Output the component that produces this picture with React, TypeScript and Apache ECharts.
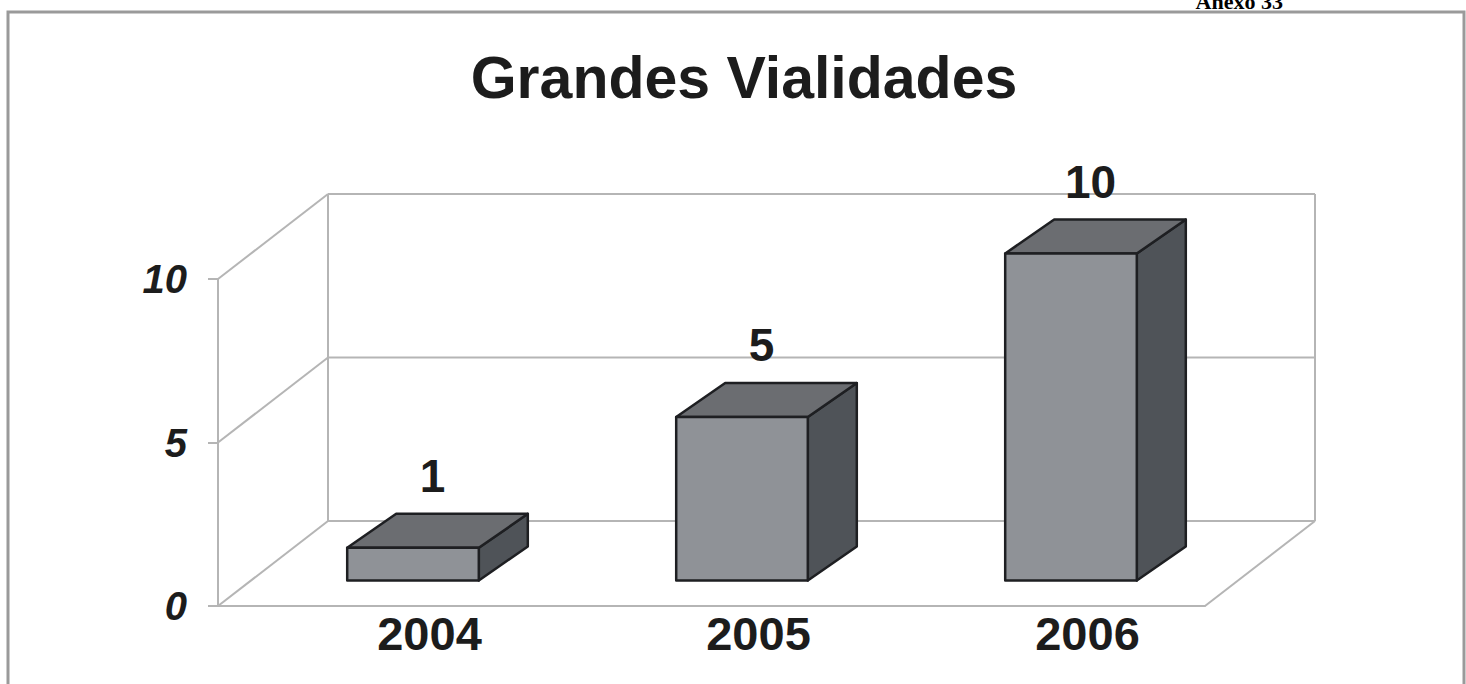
import React, { useEffect, useRef } from "react";
import * as echarts from "echarts";

const categories = ["2004", "2005", "2006"];
const values = [1, 5, 10];
const yTicks = [0, 5, 10];
const titleText = "Grandes Vialidades";
const annexText = "Anexo 33";

const FDX = 55; // wall depth offset (x)
const FDY = 42.5; // wall depth offset (y)
const BDX = 24.5; // bar half-depth (x)
const BDY = 17; // bar half-depth (y)
const FRAME = "#b5b5b5";
const OUT = "#1e1f22";
const TXT = "#1c1c1c";
const FONT = "'Liberation Sans', Arial, sans-serif";

export default function App() {
  const ref = useRef<HTMLDivElement>(null);
  useEffect(() => {
    if (!ref.current) return;
    const chart = echarts.init(ref.current, null, { renderer: "svg" });
    const yMax = yTicks[yTicks.length - 1];
    const midLeft = 273, midTop = 236.5, W = 987, H = 327;
    chart.setOption({
      animation: false,
      backgroundColor: "#ffffff",
      grid: [
        { left: midLeft, top: midTop, width: W, height: H },
        { left: midLeft - FDX, top: midTop + FDY, width: W, height: H },
      ],
      xAxis: [
        {
          gridIndex: 0,
          type: "category",
          data: categories,
          axisLine: { show: false },
          axisTick: { show: false },
          splitLine: { show: false },
          axisLabel: {
            margin: 46,
            fontSize: 47,
            fontWeight: "bold",
            fontFamily: FONT,
            color: TXT,
            padding: [0, 16, 0, 0],
          },
        },
        {
          gridIndex: 1,
          type: "category",
          data: categories,
          axisLine: { show: true, lineStyle: { color: FRAME, width: 2 } },
          axisTick: { show: false },
          axisLabel: { show: false },
          splitLine: { show: false },
        },
      ],
      yAxis: [
        {
          gridIndex: 0,
          type: "value",
          min: 0,
          max: yMax,
          interval: 5,
          axisLine: { show: false },
          axisTick: { show: false },
          axisLabel: { show: false },
          splitLine: { show: false },
        },
        {
          gridIndex: 1,
          type: "value",
          min: 0,
          max: yMax,
          interval: 5,
          axisLine: { show: true, lineStyle: { color: FRAME, width: 2 } },
          axisTick: { show: true, length: 10, lineStyle: { color: FRAME, width: 2 } },
          splitLine: { show: false },
          axisLabel: {
            margin: 31,
            fontSize: 40,
            fontWeight: "bold",
            fontStyle: "italic",
            fontFamily: FONT,
            color: TXT,
          },
        },
      ],
      graphic: [
        {
          type: "rect",
          shape: { x: 8, y: 12, width: 1456, height: 720 },
          style: { fill: "none", stroke: "#9a9a9a", lineWidth: 3 },
          silent: true,
        },
        {
          type: "text",
          style: {
            text: annexText,
            x: 1283,
            y: 12,
            align: "right",
            verticalAlign: "bottom",
            font: "bold 22px 'Liberation Serif', 'Times New Roman', serif",
            fill: "#000",
          },
        },
        {
          type: "text",
          style: {
            text: titleText,
            x: 744,
            y: 78,
            align: "center",
            verticalAlign: "middle",
            font: `bold 59px ${FONT}`,
            fill: TXT,
          },
        },
      ],
      series: [
        {
          type: "custom",
          xAxisIndex: 0,
          yAxisIndex: 0,
          data: yTicks.map((v) => [0, v]),
          silent: true,
          z: 1,
          renderItem: (params: any, api: any) => {
            const cs = params.coordSys;
            const L = cs.x, R = cs.x + cs.width;
            const v = api.value(1);
            const y = api.coord([0, v])[1];
            const st = { stroke: FRAME, lineWidth: 2, fill: "none" };
            const children: any[] = [
              { type: "line", shape: { x1: L + FDX, y1: y - FDY, x2: R + FDX, y2: y - FDY }, style: st },
              { type: "line", shape: { x1: L + FDX, y1: y - FDY, x2: L - FDX, y2: y + FDY }, style: st },
            ];
            if (v === 0) {
              const yt = api.coord([0, yMax])[1];
              children.push(
                { type: "line", shape: { x1: R + FDX, y1: y - FDY, x2: R - FDX, y2: y + FDY }, style: st },
                { type: "line", shape: { x1: L + FDX, y1: yt - FDY, x2: L + FDX, y2: y - FDY }, style: st },
                { type: "line", shape: { x1: R + FDX, y1: yt - FDY, x2: R + FDX, y2: y - FDY }, style: st }
              );
            }
            return { type: "group", children };
          },
        },
        {
          type: "custom",
          xAxisIndex: 0,
          yAxisIndex: 0,
          data: values.map((v, i) => [i, v]),
          z: 5,
          renderItem: (params: any, api: any) => {
            const i = api.value(0), v = api.value(1);
            const top = api.coord([i, v]);
            const base = api.coord([i, 0]);
            const cx = top[0], yv = top[1], y0 = base[1];
            const hw = api.size([1, 0])[0] * 0.2;
            const fl = cx - hw - BDX, fr = cx + hw - BDX;
            const bl = cx - hw + BDX, br = cx + hw + BDX;
            const ft = yv + BDY, fb = y0 + BDY, bt = yv - BDY, bb = y0 - BDY;
            const line = { stroke: OUT, lineWidth: 2.5, lineJoin: "round" };
            return {
              type: "group",
              children: [
                {
                  type: "polygon",
                  shape: { points: [[fr, ft], [br, bt], [br, bb], [fr, fb]] },
                  style: { fill: "#4f5358", ...line },
                },
                {
                  type: "polygon",
                  shape: { points: [[fl, ft], [fr, ft], [br, bt], [bl, bt]] },
                  style: { fill: "#6b6d71", ...line },
                },
                {
                  type: "polygon",
                  shape: { points: [[fl, ft], [fr, ft], [fr, fb], [fl, fb]] },
                  style: { fill: "#8f9297", ...line },
                },
                {
                  type: "text",
                  style: {
                    text: String(v),
                    x: cx - 5,
                    y: yv - 55,
                    align: "center",
                    verticalAlign: "middle",
                    font: `bold 46px ${FONT}`,
                    fill: TXT,
                  },
                },
              ],
            };
          },
        },
      ],
    });
    return () => chart.dispose();
  }, []);
  return (
    <div
      ref={ref}
      style={{ position: "fixed", left: 0, top: 0, width: 1466, height: 684 }}
    />
  );
}
